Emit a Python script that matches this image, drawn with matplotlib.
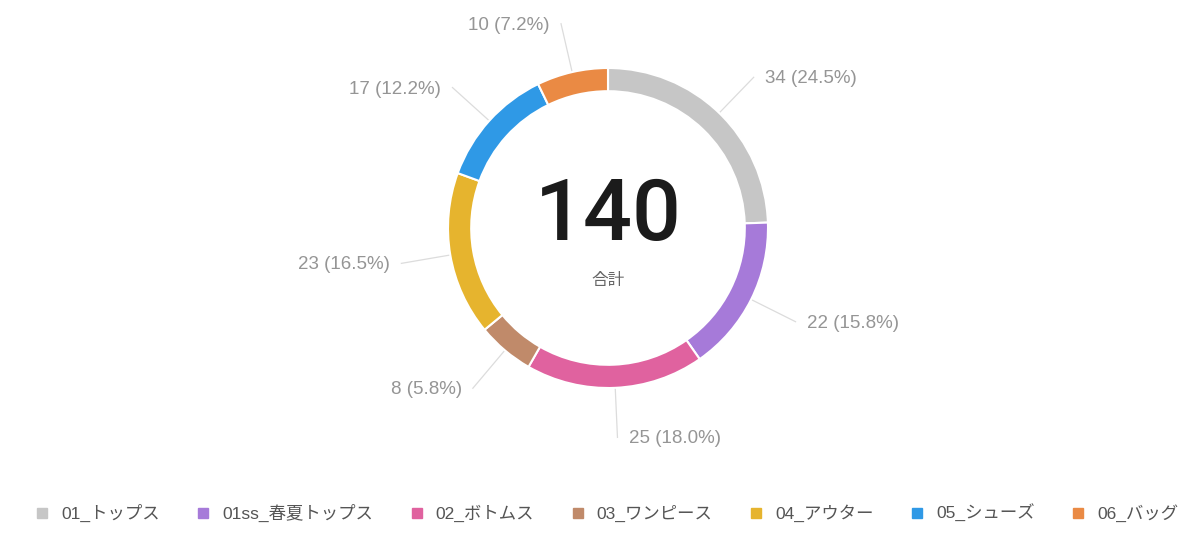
import numpy as np
import matplotlib.pyplot as plt
from matplotlib.lines import Line2D

plt.rcParams['font.family'] = ['Liberation Sans', 'Noto Sans CJK JP', 'DejaVu Sans']

categories = ['01_トップス', '01ss_春夏トップス', '02_ボトムス', '03_ワンピース',
              '04_アウター', '05_シューズ', '06_バッグ']
values = [34, 22, 25, 8, 23, 17, 10]
colors = ['#c6c6c6', '#a67ad9', '#e0629f', '#c08a6a', '#e6b42e', '#2f99e6', '#ea8a44']
total_text = '140'
total_label = '合計'

# axes in units of the outer radius (160 px)
W, H = 1200, 537
cx, cy, R = 608, 228, 160.0

fig = plt.figure(figsize=(W / 100, H / 100), dpi=100)
ax = fig.add_axes([0, 0, 1, 1])

wedges, _ = ax.pie(values, radius=1, startangle=90, counterclock=False,
                   colors=colors,
                   wedgeprops=dict(width=0.145, edgecolor='white', linewidth=1.5))

ax.set_xlim(-cx / R, (W - cx) / R)
ax.set_ylim(-(H - cy) / R, cy / R)
ax.set_aspect('equal')
ax.axis('off')

total = sum(values)
for w, v in zip(wedges, values):
    ang = np.deg2rad((w.theta1 + w.theta2) / 2)
    dx, dy = np.cos(ang), np.sin(ang)
    ex, ey = dx * 1.31, dy * 1.31
    ax.plot([dx * 1.0, ex], [dy * 1.0, ey], color='#dcdcdc', lw=0.9, zorder=0)
    side = 1 if dx >= 0 else -1
    ax.text(ex + side * 0.07, ey - 0.01, f'{v} ({v / total * 100:.1f}%)',
            ha='left' if side > 0 else 'right', va='center',
            fontsize=13.5, color='#959595')

ax.text(0, 0.07, total_text, ha='center', va='center', fontsize=62,
        color='#1b1b1b', family=['Roboto', 'DejaVu Sans'], fontweight='medium')
ax.text(0, -0.33, total_label, ha='center', va='center', fontsize=12,
        color='#666666', family=['Noto Sans CJK JP', 'DejaVu Sans'])

handles = [Line2D([], [], marker='s', linestyle='none', markersize=6.5,
                  markerfacecolor=c, markeredgecolor=c) for c in colors]
fig.legend(handles, categories, loc='center', bbox_to_anchor=(0.505, 1 - 513 / H),
           ncol=7, frameon=False, fontsize=12.5, handlelength=1.0,
           handletextpad=0.6, columnspacing=2.0, labelcolor='#555555')

fig.savefig('out.png', dpi=100)
